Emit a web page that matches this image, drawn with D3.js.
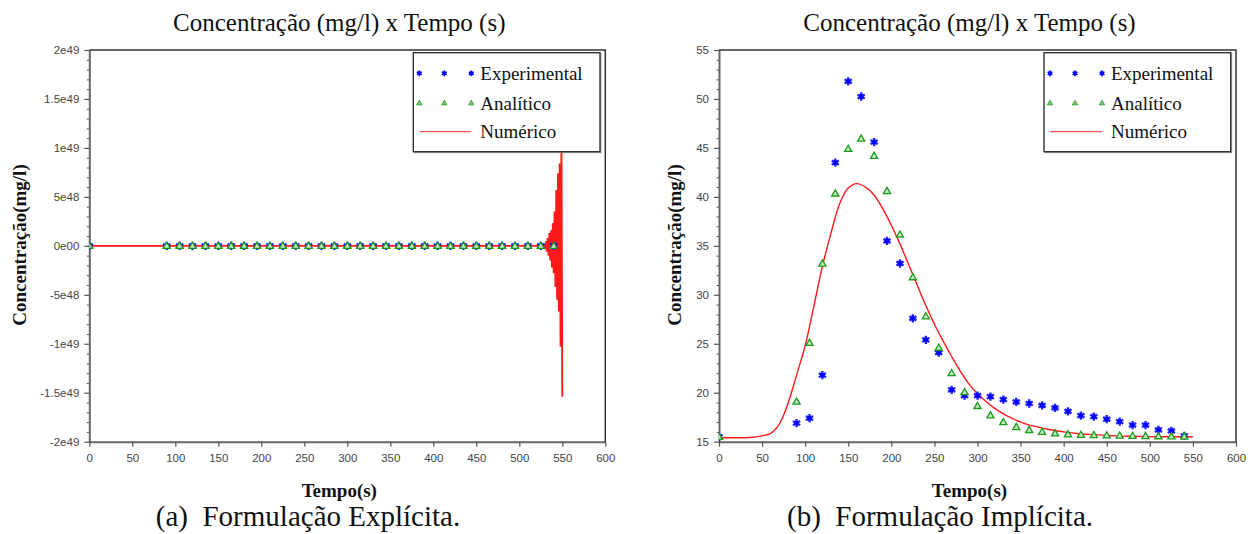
<!DOCTYPE html>
<html>
<head>
<meta charset="utf-8">
<script src="https://cdn.jsdelivr.net/npm/d3@7/dist/d3.min.js"></script>
<style>
  body { margin: 0; background: #fff; position: relative; width: 1253px; height: 534px; overflow: hidden; }
  svg { display: block; }
  .serif { font-family: "Liberation Serif", "Times New Roman", Times, serif; }
  .caption {
    position: absolute;
    width: 620px;
    text-align: center;
    font-family: "Liberation Serif", "Times New Roman", Times, serif;
    font-size: 29px;
    line-height: 29px;
    color: #111;
    white-space: pre;
  }
</style>
</head>
<body>
<svg id="chart" width="1253" height="534"></svg>
<script>
// sample times (s) of the measured / analytic points
const sampleTimes = [0, 90, 105, 120, 135, 150, 165, 180, 195, 210, 225, 240, 255, 270, 285, 300,
    315, 330, 345, 360, 375, 390, 405, 420, 435, 450, 465, 480, 495, 510, 525, 540];

const experimental = [15.5, 16.9, 17.4, 21.8, 43.5, 51.8, 50.25, 45.6, 35.5, 33.2, 27.6, 25.4, 24.1, 20.3, 19.7, 19.7,
    19.6, 19.3, 19.06, 18.9, 18.7, 18.45, 18.1, 17.66, 17.56, 17.3, 17.05, 16.7, 16.7, 16.2, 16.1, 15.6];

const analytic = [15.5, 19.1, 25.1, 33.2, 40.35, 44.9, 45.95, 44.2, 40.6, 36.15, 31.8, 27.8, 24.6, 22.0, 20.06, 18.65,
    17.7, 17.0, 16.5, 16.2, 16.0, 15.86, 15.76, 15.7, 15.68, 15.65, 15.62, 15.6, 15.58, 15.56, 15.55, 15.53];

// implicit numeric solution
const numericTimes = [0, 10, 20, 30, 40, 50, 60, 70, 80, 90, 100, 110, 120, 130, 140, 150, 160, 170, 180, 190,
    200, 210, 220, 230, 240, 250, 260, 270, 280, 290, 300, 310, 320, 330, 340, 350, 360, 370, 380, 390,
    400, 410, 420, 430, 440, 450, 460, 470, 480, 490, 500, 510, 520, 530, 540, 550];
const numericImplicit = [15.4, 15.4, 15.4, 15.4, 15.45, 15.6, 15.85, 16.8, 18.9, 21.8, 24.8, 28.8, 32.9, 36.3, 39.3, 40.9, 41.35, 41.0, 40.2, 38.8,
    37.1, 35.2, 33.1, 31.0, 28.9, 27.0, 25.3, 23.7, 22.2, 20.9, 19.9, 19.1, 18.4, 17.85, 17.4, 17.0, 16.7, 16.5, 16.3, 16.15,
    16.0, 15.9, 15.8, 15.75, 15.7, 15.65, 15.6, 15.57, 15.55, 15.53, 15.52, 15.51, 15.5, 15.5, 15.5, 15.5];

// explicit numeric solution: unstable tail (values in mg/l)
const explicitTailTimes = [526, 527, 528, 529, 530, 531, 532, 533, 534, 535, 536, 537, 538,
    539, 540, 541, 542, 543, 544, 545, 546, 547, 548, 549, 550];
const explicitTail = [-0.03e48, 0.06e48, -0.12e48, 0.2e48, -0.3e48, 0.45e48, -0.6e48, 0.8e48, -1.0e48, 1.3e48, -1.5e48, 1.6e48, -2.2e48,
    2.3e48, -2.8e48, 3.5e48, -4.2e48, 5.7e48, -5.5e48, 7.4e48, -6.7e48, 8.4e48, -10.3e48, 11e48, -15.4e48];

const xTicks = [0, 50, 100, 150, 200, 250, 300, 350, 400, 450, 500, 550, 600];
const leftYTicks = [-2e49, -1.5e49, -1e49, -5e48, 0, 5e48, 1e49, 1.5e49, 2e49];
const leftYLabels = ['-2e49', '-1.5e49', '-1e49', '-5e48', '0e00', '5e48', '1e49', '1.5e49', '2e49'];
const rightYTicks = [15, 20, 25, 30, 35, 40, 45, 50, 55];

const legendLabels = ['Experimental', 'Analítico', 'Numérico'];
const TITLE = 'Concentração (mg/l) x Tempo (s)';

const COLORS = { exp: '#0000ff', ana: '#1a9a1a', num: '#ff1a1a' };
const TOP = 50, BOTTOM = 441.7;
const SANS = '"Liberation Sans", Arial, sans-serif';

const explicitNumeric = numericTimes
    .map((t, i) => [t, numericImplicit[i]])
    .filter(d => d[0] <= 520)
    .concat(explicitTailTimes.map((t, i) => [t, explicitTail[i]]));

const panels = [
    {
        left: 89.3, right: 605.3, yDomain: [-2e49, 2e49], yTicks: leftYTicks,
        yLabels: leftYLabels, numeric: explicitNumeric, labelX: 19, lineWidth: 1.9,
        caption: '(a)  Formulação Explícita.', capX: 308
    },
    {
        left: 719, right: 1236, yDomain: [15, 55], yTicks: rightYTicks,
        yLabels: rightYTicks.map(String), numeric: numericTimes.map((t, i) => [t, numericImplicit[i]]),
        labelX: 674, lineWidth: 1.4, caption: '(b)  Formulação Implícita.', capX: 940
    }
];

const svg = d3.select('#chart');

function drawMarker(g, type, x, y) {
    if (type === 'exp') {
        g.append('path')
            .attr('d', d3.symbol(d3.symbolAsterisk, 48)())
            .attr('transform', `translate(${x},${y})`)
            .attr('fill', 'none')
            .attr('stroke', COLORS.exp)
            .attr('stroke-width', 2.4)
            .attr('stroke-opacity', 0.85);
        g.append('circle')
            .attr('cx', x).attr('cy', y).attr('r', 2.4)
            .attr('fill', COLORS.exp);
    } else {
        g.append('path')
            .attr('d', d3.symbol(d3.symbolTriangle, 22)())
            .attr('transform', `translate(${x},${y + 0.5})`)
            .attr('fill', '#c4e8c4')
            .attr('stroke', COLORS.ana)
            .attr('stroke-width', 1.3);
    }
}

panels.forEach((p, pi) => {
    const x = d3.scaleLinear().domain([0, 600]).range([p.left, p.right]);
    const y = d3.scaleLinear().domain(p.yDomain).range([BOTTOM, TOP]);
    const g = svg.append('g');

    // minor y ticks (4 between majors)
    const step = p.yTicks[1] - p.yTicks[0];
    const minor = [];
    p.yTicks.slice(0, -1).forEach(v => {
        for (let k = 1; k < 5; k++) minor.push(v + step * k / 5);
    });
    g.append('g')
        .attr('transform', `translate(${p.left},0)`)
        .call(d3.axisLeft(y).tickValues(minor).tickSize(2.5).tickFormat(''))
        .call(a => a.select('.domain').remove())
        .call(a => a.selectAll('line').attr('stroke', '#555'));

    const yAxis = g.append('g')
        .attr('transform', `translate(${p.left},0)`)
        .call(d3.axisLeft(y).tickValues(p.yTicks).tickSize(5).tickSizeOuter(0).tickPadding(5)
            .tickFormat((d, i) => p.yLabels[i]));
    yAxis.select('.domain').attr('stroke', '#666').attr('stroke-width', 2);
    yAxis.selectAll('line').attr('stroke', '#555').attr('stroke-width', 1.2);
    yAxis.selectAll('text').attr('font-family', SANS).attr('font-size', 11.5).attr('fill', '#444');

    const xAxis = g.append('g')
        .attr('transform', `translate(0,${BOTTOM})`)
        .call(d3.axisBottom(x).tickValues(xTicks).tickSize(5).tickSizeOuter(0).tickPadding(7));
    xAxis.select('.domain').attr('stroke', '#666').attr('stroke-width', 2);
    xAxis.selectAll('line').attr('stroke', '#555').attr('stroke-width', 1.2);
    xAxis.selectAll('text').attr('font-family', SANS).attr('font-size', 11.5).attr('fill', '#444');

    // top and right frame
    g.append('path')
        .attr('d', `M${p.left},${TOP}H${p.right}V${BOTTOM}`)
        .attr('fill', 'none').attr('stroke', '#333').attr('stroke-width', 1.5);

    const clipId = 'clip' + pi;
    svg.append('clipPath').attr('id', clipId)
        .append('rect')
        .attr('x', p.left).attr('y', TOP)
        .attr('width', p.right - p.left).attr('height', BOTTOM - TOP);

    const plot = g.append('g').attr('clip-path', `url(#${clipId})`);

    plot.append('path')
        .datum(p.numeric)
        .attr('d', d3.line()
            .x(d => x(d[0]))
            .y(d => y(d[1]))
            .curve(pi === 1 ? d3.curveCatmullRom : d3.curveLinear))
        .attr('fill', 'none')
        .attr('stroke', COLORS.num)
        .attr('stroke-width', p.lineWidth);

    sampleTimes.forEach((t, i) => drawMarker(plot, 'exp', x(t), y(experimental[i])));
    sampleTimes.forEach((t, i) => drawMarker(plot, 'ana', x(t), y(analytic[i])));

    // legend
    const lx = p.right - 192, ly = 52.7, lw = 186.7, lh = 99;
    const legend = g.append('g');
    legend.append('rect')
        .attr('x', lx + 1).attr('y', ly + 1).attr('width', lw).attr('height', lh)
        .attr('fill', 'none').attr('stroke', '#999').attr('stroke-width', 1);
    legend.append('rect')
        .attr('x', lx).attr('y', ly).attr('width', lw).attr('height', lh)
        .attr('fill', '#fff').attr('stroke', '#333').attr('stroke-width', 1.4);
    const rowsY = [ly + 20.6, ly + 50.6, ly + 79];
    [6, 31, 58].forEach(dx => {
        legend.append('path')
            .attr('d', d3.symbol(d3.symbolAsterisk, 22)())
            .attr('transform', `translate(${lx + dx},${rowsY[0]})`)
            .attr('stroke', COLORS.exp).attr('stroke-width', 1.6);
        legend.append('circle').attr('cx', lx + dx).attr('cy', rowsY[0]).attr('r', 2).attr('fill', COLORS.exp);
        legend.append('path')
            .attr('d', d3.symbol(d3.symbolTriangle, 12)())
            .attr('transform', `translate(${lx + dx},${rowsY[1]})`)
            .attr('fill', '#7cc87c').attr('stroke', COLORS.ana).attr('stroke-width', 0.8);
    });
    legend.append('line')
        .attr('x1', lx + 6).attr('x2', lx + 58)
        .attr('y1', rowsY[2]).attr('y2', rowsY[2])
        .attr('stroke', '#ff5555').attr('stroke-width', 1.3);
    legendLabels.forEach((lab, i) => {
        legend.append('text')
            .attr('class', 'serif')
            .attr('x', lx + 67).attr('y', rowsY[i])
            .attr('dy', '0.35em')
            .attr('font-size', 19)
            .attr('fill', '#111')
            .text(lab);
    });

    const cx = (p.left + p.right) / 2;
    svg.append('text')
        .attr('class', 'serif')
        .attr('x', cx - 8).attr('y', 31)
        .attr('text-anchor', 'middle')
        .attr('font-size', 25)
        .attr('fill', '#111')
        .text(TITLE);

    svg.append('text')
        .attr('class', 'serif')
        .attr('x', cx - 8).attr('y', 497)
        .attr('text-anchor', 'middle')
        .attr('font-size', 19).attr('font-weight', 'bold')
        .attr('fill', '#111')
        .text('Tempo(s)');

    svg.append('text')
        .attr('class', 'serif')
        .attr('transform', `translate(${p.labelX},245) rotate(-90)`)
        .attr('text-anchor', 'middle')
        .attr('dy', '0.35em')
        .attr('font-size', 19).attr('font-weight', 'bold')
        .attr('fill', '#111')
        .text('Concentração(mg/l)');

    // sub-figure caption as an HTML block under the plot
    d3.select('body').append('div')
        .attr('class', 'caption')
        .style('left', (p.capX - 310) + 'px')
        .style('top', '502px')
        .text(p.caption);
});
</script>
</body>
</html>
